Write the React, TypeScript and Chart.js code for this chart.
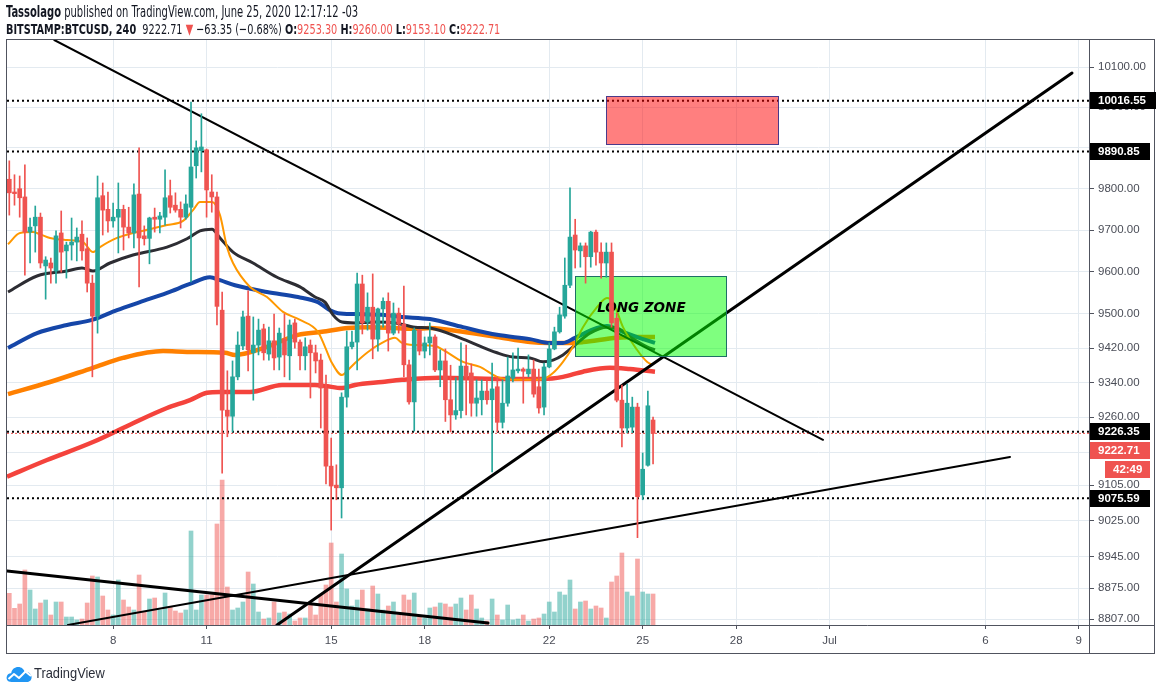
import React, { useEffect, useLayoutEffect, useRef } from 'react';
import { Chart, registerables } from 'chart.js';

Chart.register(...registerables);

// ---------- DATA ----------
// 4h bars, first bar June 4 17:00 (chart time zone -03); x unit = day of June (July continues 31, 32, ...)
const FIRST_BAR_DAY = 4 + 17 / 24;
const BAR_STEP_DAYS = 4 / 24;

const opens = [
  9823, 9792, 9800, 9780, 9695, 9710, 9731, 9614, 9621, 9602,
  9693, 9650, 9664, 9671, 9690, 9655, 9573, 9495, 9783, 9750,
  9722, 9731, 9750, 9707, 9693, 9787, 9686, 9680, 9731, 9726,
  9731, 9783, 9760, 9750, 9731, 9755, 9856, 9893, 9895, 9792,
  9780, 9509, 9276, 9262, 9353, 9425, 9495, 9409, 9427, 9465,
  9406, 9437, 9399, 9441, 9402, 9479, 9434, 9402, 9427, 9409,
  9392, 9327, 9148, 9105, 9099, 9306, 9423, 9434, 9571, 9481,
  9516, 9441, 9512, 9530, 9455, 9502, 9476, 9381, 9295, 9462,
  9413, 9432, 9446, 9369, 9390, 9300, 9265, 9275, 9378, 9362,
  9292, 9300, 9320, 9300, 9330, 9248, 9292, 9350, 9367, 9371,
  9360, 9371, 9330, 9283, 9376, 9418, 9458, 9495, 9568, 9688,
  9650, 9662, 9636, 9695, 9647, 9621, 9647, 9490, 9299, 9235,
  9237, 9283, 9083, 9150, 9253.3,
];
const highs = [
  9868, 9834, 9831, 9858, 9729, 9758, 9741, 9636, 9633, 9698,
  9746, 9671, 9729, 9705, 9722, 9681, 9592, 9831, 9814, 9792,
  9765, 9814, 9760, 9755, 9812, 9900, 9710, 9731, 9753, 9743,
  9846, 9821, 9790, 9768, 9785, 10013, 9917, 9984, 9897, 9834,
  9792, 9552, 9367, 9390, 9458, 9507, 9555, 9493, 9488, 9476,
  9469, 9500, 9467, 9500, 9486, 9488, 9439, 9444, 9439, 9427,
  9406, 9357, 9212, 9151, 9316, 9460, 9460, 9597, 9592, 9550,
  9595, 9514, 9538, 9550, 9526, 9514, 9566, 9392, 9467, 9464,
  9446, 9479, 9451, 9416, 9418, 9380, 9351, 9432, 9427, 9383,
  9346, 9346, 9346, 9385, 9353, 9346, 9399, 9409, 9420, 9374,
  9404, 9392, 9371, 9385, 9432, 9469, 9516, 9633, 9802, 9726,
  9669, 9669, 9697, 9700, 9669, 9669, 9669, 9502, 9334, 9336,
  9306, 9292, 9178, 9320, 9260.0,
];
const lows = [
  9736, 9760, 9731, 9592, 9621, 9647, 9609, 9535, 9573, 9573,
  9599, 9585, 9628, 9626, 9628, 9552, 9353, 9455, 9688, 9695,
  9707, 9645, 9652, 9681, 9657, 9564, 9664, 9619, 9695, 9693,
  9712, 9741, 9743, 9705, 9726, 9576, 9826, 9841, 9731, 9743,
  9474, 9132, 9215, 9226, 9346, 9416, 9367, 9299, 9404, 9392,
  9392, 9369, 9369, 9353, 9346, 9420, 9369, 9369, 9304, 9362,
  9235, 9108, 9004, 9072, 9031, 9283, 9418, 9369, 9453, 9462,
  9395, 9413, 9469, 9413, 9451, 9455, 9353, 9290, 9228, 9404,
  9397, 9404, 9365, 9330, 9250, 9226, 9255, 9258, 9265, 9262,
  9262, 9265, 9290, 9135, 9226, 9235, 9285, 9341, 9362, 9292,
  9353, 9306, 9269, 9265, 9374, 9416, 9455, 9490, 9562, 9609,
  9611, 9573, 9611, 9616, 9585, 9587, 9469, 9295, 9192, 9224,
  9224, 8987, 9072, 9148, 9153.1,
];
const closes = [
  9790, 9788, 9778, 9695, 9707, 9731, 9621, 9628, 9609, 9686,
  9647, 9664, 9671, 9683, 9650, 9573, 9495, 9778, 9748, 9722,
  9731, 9750, 9707, 9693, 9785, 9681, 9679, 9729, 9726, 9734,
  9778, 9755, 9748, 9731, 9763, 9853, 9900, 9902, 9797, 9780,
  9518, 9276, 9262, 9353, 9427, 9493, 9416, 9427, 9462, 9409,
  9437, 9397, 9455, 9404, 9474, 9434, 9402, 9423, 9409, 9390,
  9327, 9148, 9103, 9099, 9306, 9423, 9434, 9571, 9479, 9516,
  9441, 9512, 9530, 9455, 9502, 9476, 9381, 9295, 9462, 9413,
  9432, 9446, 9369, 9390, 9300, 9265, 9275, 9378, 9353, 9292,
  9304, 9320, 9300, 9325, 9248, 9292, 9355, 9369, 9371, 9366,
  9371, 9313, 9281, 9376, 9418, 9458, 9498, 9568, 9683, 9652,
  9662, 9636, 9695, 9647, 9621, 9647, 9479, 9299, 9235, 9292,
  9283, 9079, 9141, 9286.06, 9222.71,
];
const volumes = [
  3170, 1670, 2100, 5500, 3500, 1600, 2200, 2500, 1000, 2300,
  2300, 800, 800, 500, 600, 2200, 4900, 4800, 2900, 1500,
  1000, 4500, 2500, 1800, 1500, 5000, 1300, 2600, 2700, 1500,
  3200, 1800, 1400, 1200, 1500, 9400, 1500, 3000, 3000, 3000,
  10100, 14500, 3800, 1500, 1700, 2300, 5300, 4100, 1300, 600,
  700, 2300, 1200, 1300, 1100, 400, 700, 700, 2000, 1000,
  3000, 4000, 8200, 2300, 7100, 3600, 1900, 2500, 3500, 1600,
  3900, 3100, 1500, 1900, 2300, 1000, 3000, 2500, 3200, 800,
  700, 1700, 1800, 2200, 2100, 1800, 2100, 2700, 1500, 3000,
  1600, 700, 400, 2600, 1000, 500, 2000, 500, 600, 1000,
  400, 600, 700, 1100, 2300, 1300, 3300, 3000, 4500, 1600,
  2300, 2400, 1600, 1900, 1700, 700, 4300, 4900, 7200, 3300,
  2900, 6600, 3300, 3100, 3100,
];

// moving averages
const maFastDays = [4.667, 5.052, 5.469, 5.694, 6.015, 6.561, 7.074, 7.395, 7.62, 8.166, 8.68, 9.225, 9.771, 10.285, 10.606, 10.83, 11.216, 11.472, 11.697, 11.89, 12.436, 12.981, 13.495, 14.041, 14.618, 14.843, 15.068, 15.389, 15.582, 15.806, 16.224, 16.673, 17.09, 17.315, 17.733, 18.375, 18.631, 19.273, 19.819, 20.365, 20.878, 21.424, 21.842, 22.162, 22.483, 22.804, 23.125, 23.575, 23.896, 24.089, 24.41, 24.859, 25.18, 25.34];
const maFastPrices = [9666, 9693, 9695, 9690, 9681, 9676, 9671, 9647, 9659, 9681, 9693, 9702, 9712, 9722, 9748, 9768, 9768, 9736, 9659, 9621, 9564, 9540, 9505, 9486, 9458, 9423, 9385, 9357, 9369, 9385, 9411, 9432, 9444, 9432, 9427, 9425, 9416, 9388, 9376, 9353, 9346, 9346, 9348, 9362, 9388, 9423, 9469, 9516, 9538, 9528, 9469, 9416, 9388, 9381];

const maMidDays = [4.667, 5.598, 6.561, 7.042, 7.395, 7.941, 8.68, 9.771, 10.413, 10.83, 11.216, 11.472, 11.89, 12.532, 13.302, 14.041, 14.522, 14.843, 15.1, 15.389, 15.806, 16.448, 17.09, 17.733, 18.214, 19.273, 20.365, 20.878, 21.424, 21.842, 22.162, 22.483, 22.804, 23.35, 23.896, 24.217, 24.635, 25.18, 25.437];
const maMidPrices = [9552, 9590, 9602, 9609, 9602, 9621, 9640, 9659, 9679, 9698, 9702, 9681, 9647, 9621, 9587, 9564, 9540, 9528, 9498, 9481, 9479, 9481, 9479, 9469, 9467, 9441, 9409, 9399, 9397, 9388, 9392, 9404, 9423, 9455, 9469, 9467, 9446, 9423, 9416];

const maSlowDays = [4.667, 5.598, 6.561, 7.363, 8.166, 8.904, 9.771, 10.509, 11.151, 11.472, 11.954, 12.981, 13.976, 14.618, 15.004, 15.261, 15.806, 16.673, 17.315, 18.214, 19.273, 20.365, 21.424, 22.066, 22.483, 22.869, 23.575, 23.896, 24.41, 25.052, 25.437];
const maSlowPrices = [9420, 9455, 9474, 9486, 9509, 9528, 9550, 9571, 9587, 9580, 9568, 9552, 9540, 9528, 9509, 9502, 9500, 9498, 9493, 9488, 9469, 9451, 9441, 9432, 9432, 9444, 9467, 9472, 9458, 9441, 9432];

const maLongDays = [4.667, 6.015, 7.395, 8.358, 9.643, 10.413, 11.633, 11.954, 12.981, 13.976, 14.747, 15.582, 16.224, 17.09, 17.733, 18.214, 19.273, 20.365, 21.424, 22.066, 22.708, 23.125, 24.217, 24.859, 25.437];
const maLongPrices = [9313, 9341, 9374, 9397, 9413, 9411, 9409, 9404, 9423, 9451, 9458, 9467, 9469, 9467, 9465, 9467, 9458, 9446, 9434, 9432, 9432, 9434, 9444, 9446, 9446];

const maBaseDays = [4.635, 5.919, 7.395, 8.68, 9.771, 10.509, 11.055, 11.472, 12.436, 13.463, 14.522, 14.843, 15.389, 15.806, 16.673, 17.315, 18.535, 20.365, 21.842, 22.483, 23.125, 23.992, 24.635, 25.437];
const maBasePrices = [9124, 9162, 9203, 9246, 9281, 9299, 9316, 9318, 9318, 9334, 9334, 9332, 9327, 9334, 9341, 9346, 9351, 9348, 9348, 9353, 9365, 9374, 9371, 9365];

// drawings
const levelPrices = [10016.55, 9890.85, 9226.35, 9075.59];
const trendStartDays = [6.153, 13.302, 6.59, 4.6345];
const trendStartPrices = [10168.4, 8794.4, 8794.4, 8913];
const trendEndDays = [30.83, 38.824, 36.834, 20.076];
const trendEndPrices = [9208, 10085.5, 9168.8, 8798.8];
const zoneStartDays = [23.864, 22.879];
const zoneEndDays = [29.386, 27.717];
const zoneTopPrices = [10028, 9590];
const zoneBottomPrices = [9909, 9401.5];
const zoneTextDay = 25.0;
const zoneTextPrice = 9514;
const zoneText = 'LONG ZONE';
const countdownText = '42:49';

// axes
const X_MIN = 4.6345;
const X_MAX = 39.37;
const Y_MIN = 8794.4;
const Y_MAX = 10168.4;
const VOL_MAX = 58500;
const priceTickValues = [10100, 10000, 9900, 9800, 9700, 9600, 9500, 9420, 9340, 9260, 9180, 9105, 9025, 8945, 8875, 8807];
const dayTickValues = [8, 11, 15, 18, 22, 25, 28, 31, 36, 39];
const dayTickLabels = ['8', '11', '15', '18', '22', '25', '28', 'Jul', '6', '9'];
const DAY_TICK_OFFSET = 1 / 24;

// ---------- STYLE ----------
const UP = '#26a69a';
const DOWN = '#ef5350';
const UP_VOL = 'rgba(38,166,154,0.5)';
const DOWN_VOL = 'rgba(239,83,80,0.5)';
const GRID = '#e3eaf0';
const FRAME = '#50535e';
const TEXT = '#131722';
const AXIS_TEXT = '#4a4d57';
const AXIS_FONT = '"Liberation Sans", Arial, sans-serif';
const HEADER_FONT = '"Liberation Sans Narrow", "DejaVu Sans Condensed", "Liberation Sans", Arial, sans-serif';
const trendWidths = [2, 3, 2, 3];
const zoneFills = ['rgba(255,0,0,0.5)', 'rgba(0,255,0,0.5)'];
const zoneBorders = ['#4a3a8a', '#1e6f66'];

const n = opens.length;
const barDays = opens.map((_, i) => FIRST_BAR_DAY + i * BAR_STEP_DAYS);
const isUp = closes.map((c, i) => c >= opens[i]);

function lineDs(days: number[], prices: number[], color: string, width: number, order: number, extra: any = {}) {
  return {
    type: 'line' as const,
    data: days.map((d, i) => ({ x: d, y: prices[i] })),
    borderColor: color,
    borderWidth: width,
    pointRadius: 0,
    fill: false,
    cubicInterpolationMode: 'monotone' as const,
    yAxisID: 'y',
    order,
    ...extra,
  };
}

const overlayPlugin = {
  id: 'overlays',
  beforeDatasetDraw(chart: any, args: any) {
    const ds = chart.data.datasets[args.index];
    if (ds.label !== 'wicks') return;
    const { ctx, chartArea } = chart;
    const xs = chart.scales.x;
    const ys = chart.scales.y;
    ctx.save();
    ctx.beginPath();
    ctx.rect(chartArea.left, chartArea.top, chartArea.right - chartArea.left, chartArea.bottom - chartArea.top);
    ctx.clip();
    for (let i = 0; i < zoneStartDays.length; i++) {
      const x1 = Math.round(xs.getPixelForValue(zoneStartDays[i]));
      const x2 = Math.round(xs.getPixelForValue(zoneEndDays[i]));
      const y1 = Math.round(ys.getPixelForValue(zoneTopPrices[i]));
      const y2 = Math.round(ys.getPixelForValue(zoneBottomPrices[i]));
      ctx.fillStyle = zoneFills[i];
      ctx.fillRect(x1, y1, x2 - x1, y2 - y1);
      ctx.strokeStyle = zoneBorders[i];
      ctx.lineWidth = 1;
      ctx.strokeRect(x1 + 0.5, y1 + 0.5, x2 - x1, y2 - y1);
    }
    // zone caption (candles are drawn over it)
    ctx.font = 'italic bold 13.5px "DejaVu Sans", Verdana, sans-serif';
    ctx.fillStyle = '#000';
    ctx.textAlign = 'center';
    ctx.textBaseline = 'middle';
    ctx.fillText(zoneText, xs.getPixelForValue(zoneTextDay), ys.getPixelForValue(zoneTextPrice));
    ctx.restore();
  },
  afterDraw(chart: any) {
    const { ctx, chartArea } = chart;
    const ys = chart.scales.y;
    const xs = chart.scales.x;
    const right = ys.right;
    const bottom = xs.bottom;
    ctx.save();
    // frame and separators
    ctx.strokeStyle = FRAME;
    ctx.lineWidth = 1;
    ctx.strokeRect(chartArea.left - 0.5, chartArea.top - 0.5, right - chartArea.left + 1, bottom - chartArea.top + 1);
    ctx.beginPath();
    ctx.moveTo(chartArea.right + 0.5, chartArea.top);
    ctx.lineTo(chartArea.right + 0.5, bottom);
    ctx.moveTo(chartArea.left, chartArea.bottom + 0.5);
    ctx.lineTo(right, chartArea.bottom + 0.5);
    ctx.stroke();

    // price labels on the axis
    const items = [
      { v: levelPrices[0], bg: '#000' },
      { v: levelPrices[1], bg: '#000' },
      { v: levelPrices[2], bg: '#000' },
      { v: closes[n - 1], bg: DOWN },
      { v: levelPrices[3], bg: '#000' },
    ];
    ctx.font = 'bold 11.5px ' + AXIS_FONT;
    ctx.textBaseline = 'middle';
    ctx.textAlign = 'left';
    const h = 17;
    let prevBottom = -Infinity;
    const boxes = items
      .map((it) => ({ ...it, y: ys.getPixelForValue(it.v) }))
      .sort((a, b) => a.y - b.y);
    for (const it of boxes) {
      let top = Math.round(it.y - h / 2);
      if (top < prevBottom + 2) top = prevBottom + 2;
      const text = it.v.toFixed(2);
      const w = Math.round(ctx.measureText(text).width + 18);
      const x = chartArea.right + 1;
      ctx.fillStyle = it.bg;
      ctx.fillRect(x, top, w, h);
      ctx.fillStyle = '#fff';
      ctx.fillText(text, x + 8, top + h / 2 + 0.5);
      if (it.bg === DOWN) {
        // countdown under the last price
        const cw = Math.round(ctx.measureText(countdownText).width + 16);
        const ctop = top + h + 2;
        ctx.fillStyle = DOWN;
        ctx.fillRect(x + w - cw, ctop, cw, h);
        ctx.fillStyle = '#fff';
        ctx.fillText(countdownText, x + w - cw + 8, ctop + h / 2 + 0.5);
        prevBottom = ctop + h;
      } else {
        prevBottom = top + h;
      }
    }
    ctx.restore();
  },
};

function FitLine({ width, style, children }: { width: number; style: any; children: any }) {
  const ref = useRef<HTMLDivElement>(null);
  useLayoutEffect(() => {
    const el = ref.current;
    if (!el) return;
    el.style.transform = 'none';
    const w = el.scrollWidth;
    if (w > 0) el.style.transform = `scaleX(${width / w})`;
  }, [width]);
  return (
    <div
      ref={ref}
      style={{ position: 'absolute', whiteSpace: 'nowrap', transformOrigin: '0 0', display: 'inline-block', ...style }}
    >
      {children}
    </div>
  );
}

export default function App() {
  const canvasRef = useRef<HTMLCanvasElement>(null);

  useEffect(() => {
    const canvas = canvasRef.current;
    if (!canvas) return;

    const volumeDs = {
      type: 'bar' as const,
      label: 'volume',
      data: barDays.map((d, i) => ({ x: d, y: volumes[i] })),
      backgroundColor: isUp.map((u) => (u ? UP_VOL : DOWN_VOL)),
      borderWidth: 0,
      barThickness: 4,
      grouped: false,
      yAxisID: 'vol',
      order: 100,
    };
    const wickDs = {
      type: 'bar' as const,
      label: 'wicks',
      data: barDays.map((d, i) => ({ x: d, y: [lows[i], highs[i]] })),
      backgroundColor: isUp.map((u) => (u ? UP : DOWN)),
      borderWidth: 0,
      barThickness: 1,
      grouped: false,
      yAxisID: 'y',
      order: 2,
    };
    const bodyDs = {
      type: 'bar' as const,
      label: 'bodies',
      data: barDays.map((d, i) => ({ x: d, y: [opens[i], closes[i]] })),
      backgroundColor: isUp.map((u) => (u ? UP : DOWN)),
      borderWidth: 0,
      barThickness: 4,
      minBarLength: 1,
      grouped: false,
      yAxisID: 'y',
      order: 1,
    };

    const levelDs = levelPrices.map((p, i) =>
      lineDs([X_MIN, X_MAX], [p, p], '#000', 2, 40 + i, { borderDash: [2, 3], cubicInterpolationMode: 'default', tension: 0 })
    );
    const lastPriceDs = lineDs([X_MIN, X_MAX], [closes[n - 1], closes[n - 1]], DOWN, 1, 39, {
      borderDash: [2, 2],
      cubicInterpolationMode: 'default',
      tension: 0,
    });
    const trendDs = trendStartDays.map((d, i) =>
      lineDs([d, trendEndDays[i]], [trendStartPrices[i], trendEndPrices[i]], '#000', trendWidths[i], 30 + i, {
        cubicInterpolationMode: 'default',
        tension: 0,
        borderCapStyle: 'round',
      })
    );

    const chart = new Chart(canvas, {
      type: 'bar',
      data: {
        datasets: [
          volumeDs,
          lineDs(maBaseDays, maBasePrices, '#f4433c', 4.5, 64),
          lineDs(maLongDays, maLongPrices, '#ff8000', 4.5, 63),
          lineDs(maSlowDays, maSlowPrices, '#1546a8', 4, 62),
          lineDs(maMidDays, maMidPrices, '#2d2d33', 3, 61),
          lineDs(maFastDays, maFastPrices, '#ff9800', 2, 60),
          ...levelDs,
          lastPriceDs,
          ...trendDs,
          wickDs,
          bodyDs,
        ] as any,
      },
      options: {
        responsive: false,
        animation: false,
        events: [],
        layout: { padding: { left: 7, top: 40, right: 8, bottom: 38 } },
        plugins: { legend: { display: false }, tooltip: { enabled: false }, title: { display: false } },
        scales: {
          x: {
            type: 'linear',
            min: X_MIN,
            max: X_MAX,
            bounds: 'data',
            offset: false,
            grid: { color: GRID, offset: false, drawTicks: true, tickLength: 4, tickColor: FRAME },
            border: { display: false },
            afterBuildTicks: (axis: any) => {
              axis.ticks = dayTickValues.map((d) => ({ value: d + DAY_TICK_OFFSET }));
            },
            afterFit: (axis: any) => {
              axis.height = 28;
            },
            ticks: {
              autoSkip: false,
              maxRotation: 0,
              padding: 5,
              color: AXIS_TEXT,
              font: { family: AXIS_FONT, size: 11.5 },
              callback: (_v: any, i: number) => dayTickLabels[i],
            },
          },
          y: {
            type: 'logarithmic',
            position: 'right',
            min: Y_MIN,
            max: Y_MAX,
            bounds: 'data',
            grid: { color: GRID, drawTicks: true, tickLength: 5, tickColor: FRAME },
            border: { display: false },
            afterBuildTicks: (axis: any) => {
              axis.ticks = priceTickValues.map((v) => ({ value: v }));
            },
            afterFit: (axis: any) => {
              axis.width = 65;
            },
            ticks: {
              autoSkip: false,
              padding: 4,
              color: AXIS_TEXT,
              font: { family: AXIS_FONT, size: 11.5 },
              callback: (v: any) => Number(v).toFixed(2),
            },
          },
          vol: {
            type: 'linear',
            display: false,
            min: 0,
            max: VOL_MAX,
            grid: { display: false },
          },
        },
      } as any,
      plugins: [overlayPlugin],
    });

    return () => chart.destroy();
  }, []);

  const o = opens[n - 1];
  const hi = highs[n - 1];
  const lo = lows[n - 1];
  const c = closes[n - 1];
  const prev = closes[n - 2];
  const chg = c - prev;
  const pct = (chg / prev) * 100;
  const fmtSigned = (v: number, d: number) => (v < 0 ? '\u2212' : '+') + Math.abs(v).toFixed(d);
  const red = { color: DOWN };

  return (
    <div
      style={{
        position: 'absolute',
        left: 0,
        top: 0,
        width: 1162,
        height: 691,
        background: '#fff',
        overflow: 'hidden',
        color: TEXT,
      }}
    >
      <canvas ref={canvasRef} width={1162} height={691} style={{ position: 'absolute', left: 0, top: 0, width: 1162, height: 691 }} />
      <FitLine width={352} style={{ left: 6, top: 3, fontFamily: HEADER_FONT, fontSize: 15, lineHeight: '18px' }}>
        <b>Tassolago</b> published on TradingView.com, June 25, 2020 12:17:12 -03
      </FitLine>
      <FitLine width={494} style={{ left: 6, top: 20, fontFamily: HEADER_FONT, fontSize: 14.5, lineHeight: '18px' }}>
        <b>BITSTAMP:BTCUSD, 240</b>&nbsp; {c.toFixed(2)} <span style={red}>▼</span> {fmtSigned(chg, 2)} ({fmtSigned(pct, 2)}%){' '}
        <b>O:</b>
        <span style={red}>{o.toFixed(2)}</span> <b>H:</b>
        <span style={red}>{hi.toFixed(2)}</span> <b>L:</b>
        <span style={red}>{lo.toFixed(2)}</span> <b>C:</b>
        <span style={red}>{c.toFixed(2)}</span>
      </FitLine>
      <svg width="27" height="17" viewBox="0 0 27 17" style={{ position: 'absolute', left: 6, top: 665 }}>
        <path
          d="M5.5 17 C1.5 17 0 14 0.8 11.5 C1.5 9 3.5 8 5.2 8.2 C5.8 4.2 8.8 2 12.2 2 C15.6 2 18 4.2 18.6 6.8 C21.8 6.2 25 8.2 25.5 11.5 C26 14.5 24 17 21 17 Z"
          fill="#2196f3"
        />
        <polyline points="2.5,14 8,9 13,13 19.5,6.5 25,11" fill="none" stroke="#fff" strokeWidth="2" strokeLinejoin="round" />
      </svg>
      <FitLine width={71} style={{ left: 34, top: 664, fontFamily: AXIS_FONT, fontSize: 14.5, lineHeight: '18px', color: '#2a2e39' }}>
        TradingView
      </FitLine>
    </div>
  );
}
